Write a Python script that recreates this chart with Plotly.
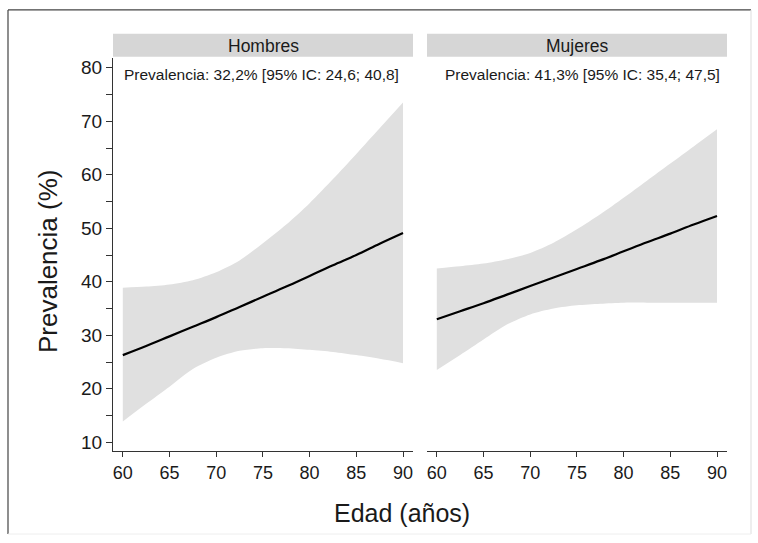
import plotly.graph_objects as go

# ---------------- data ----------------
edad = [60, 62.5, 65, 67.5, 70, 72.5, 75, 77.5, 80, 82.5, 85, 87.5, 90]

hombres_prev = [26.3, 28.0, 29.8, 31.6, 33.4, 35.3, 37.2, 39.1, 41.1, 43.1, 45.0, 47.1, 49.1]
hombres_sup = [38.9, 39.1, 39.5, 40.3, 41.8, 44.0, 47.2, 50.7, 54.7, 59.2, 63.9, 68.7, 73.5]
hombres_inf = [13.9, 17.2, 20.4, 23.7, 25.8, 27.1, 27.6, 27.6, 27.3, 26.9, 26.3, 25.6, 24.8]

mujeres_prev = [33.0, 34.5, 36.0, 37.6, 39.2, 40.8, 42.4, 44.0, 45.7, 47.4, 49.0, 50.7, 52.3]
mujeres_sup = [42.5, 42.9, 43.4, 44.2, 45.4, 47.3, 49.8, 52.6, 55.7, 58.9, 62.1, 65.3, 68.5]
mujeres_inf = [23.5, 26.3, 29.2, 32.0, 33.9, 35.0, 35.6, 35.9, 36.1, 36.1, 36.1, 36.1, 36.1]

paneles = ["Hombres", "Mujeres"]
resumen = ["Prevalencia: 32,2% [95% IC: 24,6; 40,8]",
           "Prevalencia: 41,3% [95% IC: 35,4; 47,5]"]
x_ticks = [60, 65, 70, 75, 80, 85, 90]
y_ticks = [10, 20, 30, 40, 50, 60, 70, 80]
y_minor = [15, 25, 35, 45, 55, 65, 75]

# ---------------- layout helpers ----------------
W, H = 758, 543
def px(x):
    return x / W
def py(y):
    return 1 - y / H

FONT = "Liberation Sans, Arial, sans-serif"
TXT = "#1a1a1a"
AX = "#333333"
BAND = "#e0e0e0"

fig = go.Figure()

series = [
    ("x", "y", hombres_prev, hombres_sup, hombres_inf),
    ("x2", "y2", mujeres_prev, mujeres_sup, mujeres_inf),
]
for xa, ya, prev, sup, inf in series:
    fig.add_trace(go.Scatter(
        x=edad, y=inf, mode="lines",
        line=dict(width=0, shape="spline", smoothing=0.8),
        hoverinfo="skip", xaxis=xa, yaxis=ya))
    fig.add_trace(go.Scatter(
        x=edad, y=sup, mode="lines", fill="tonexty", fillcolor=BAND,
        line=dict(width=0, shape="spline", smoothing=0.8),
        hoverinfo="skip", xaxis=xa, yaxis=ya))
    fig.add_trace(go.Scatter(
        x=edad, y=prev, mode="lines",
        line=dict(color="black", width=2.2, shape="spline"),
        xaxis=xa, yaxis=ya))

xcommon = dict(range=[58.95, 91.07], tickvals=x_ticks, ticks="outside", ticklen=5,
               tickwidth=1.2, tickcolor=AX, showline=True, linecolor=AX, linewidth=1.3,
               showgrid=False, zeroline=False,
               tickfont=dict(family=FONT, size=18, color=TXT))
ycommon = dict(range=[8.32, 81.86], domain=[py(453), py(58)], showgrid=False, zeroline=False)

fig.update_layout(
    width=W, height=H,
    margin=dict(l=0, r=0, t=0, b=0),
    paper_bgcolor="white", plot_bgcolor="white",
    showlegend=False,
    xaxis=dict(domain=[px(113), px(413)], anchor="y", **xcommon),
    xaxis2=dict(domain=[px(427), px(727)], anchor="y2", **xcommon),
    yaxis=dict(anchor="x", tickvals=y_ticks, ticks="outside", ticklen=6, tickwidth=1.2,
               tickcolor=AX, showline=True, linecolor=AX, linewidth=1.3,
               tickfont=dict(family=FONT, size=19, color=TXT),
               minor=dict(tickvals=y_minor, ticks="outside", ticklen=6, tickwidth=1.2,
                          tickcolor=AX),
               **ycommon),
    yaxis2=dict(anchor="x2", visible=False, **ycommon),
)

shapes = []
# strip headers
for x0, x1 in [(113, 413), (427, 727)]:
    shapes.append(dict(type="rect", xref="paper", yref="paper",
                       x0=px(x0), x1=px(x1), y0=py(57), y1=py(34),
                       fillcolor="#d6d6d6", line=dict(width=0), layer="below"))
# outer frame
shapes.append(dict(type="line", xref="paper", yref="paper", x0=px(8), x1=px(8),
                   y0=py(10), y1=py(536), line=dict(color="#444444", width=1.2)))
shapes.append(dict(type="line", xref="paper", yref="paper", x0=px(8), x1=px(751),
                   y0=py(10), y1=py(10), line=dict(color="#444444", width=1.2)))
shapes.append(dict(type="line", xref="paper", yref="paper", x0=px(751), x1=px(751),
                   y0=py(10), y1=py(536), line=dict(color="#dddddd", width=1)))
shapes.append(dict(type="line", xref="paper", yref="paper", x0=px(8), x1=px(751),
                   y0=py(536), y1=py(536), line=dict(color="#eeeeee", width=1)))
fig.update_layout(shapes=shapes)

annotations = []
for name, cx in zip(paneles, [263, 577]):
    annotations.append(dict(text=name, xref="paper", yref="paper", x=px(cx), y=py(46),
                            xanchor="center", yanchor="middle", showarrow=False,
                            font=dict(family=FONT, size=17.5, color=TXT)))
for txt, lx in zip(resumen, [122, 443]):
    annotations.append(dict(text=txt, xref="paper", yref="paper", x=px(lx), y=py(75),
                            xanchor="left", yanchor="middle", showarrow=False,
                            font=dict(family=FONT, size=15.5, color=TXT)))
annotations.append(dict(text="Edad (años)", xref="paper", yref="paper", x=px(402), y=py(515),
                        xanchor="center", yanchor="middle", showarrow=False,
                        font=dict(family=FONT, size=25, color=TXT)))
annotations.append(dict(text="Prevalencia (%)", xref="paper", yref="paper", x=px(48), y=py(262),
                        xanchor="center", yanchor="middle", showarrow=False, textangle=-90,
                        font=dict(family=FONT, size=26, color=TXT)))
fig.update_layout(annotations=annotations)

fig.write_html("out.html")
